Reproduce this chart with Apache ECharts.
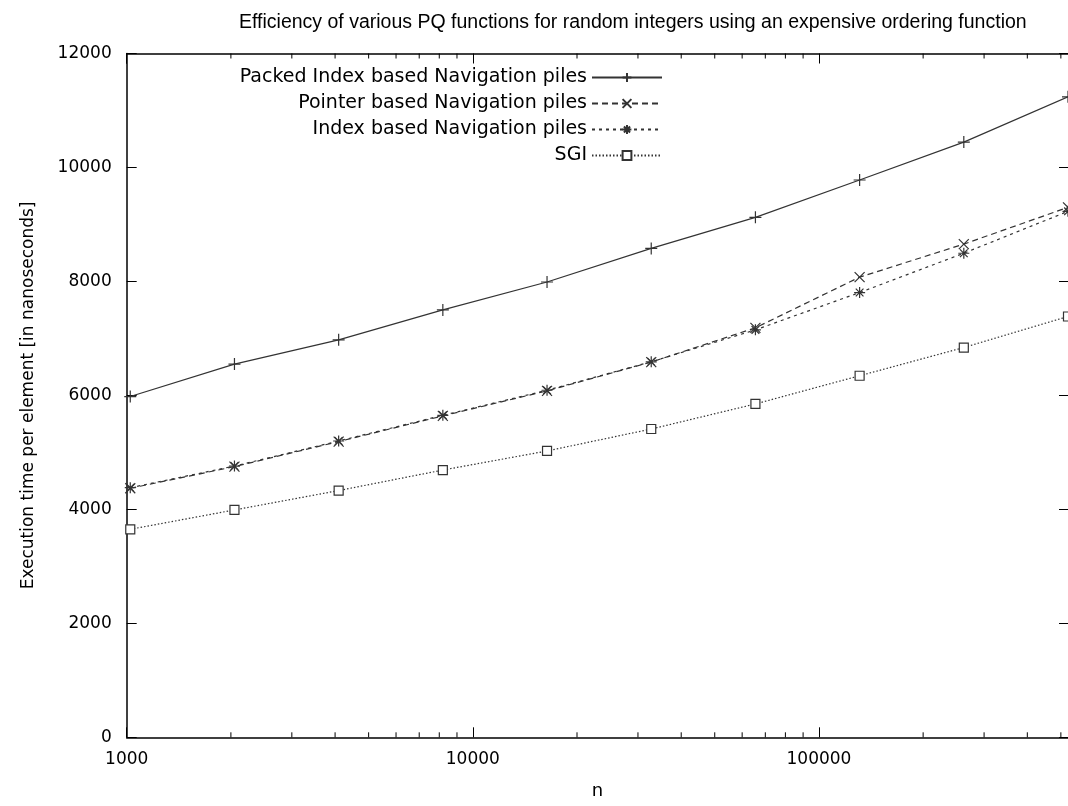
<!DOCTYPE html>
<html>
<head>
<meta charset="utf-8">
<script src="https://cdn.jsdelivr.net/npm/echarts@6/dist/echarts.min.js"></script>
<style>
html,body{margin:0;padding:0;background:#fff;}
#chart{width:1068px;height:806px;}
</style>
</head>
<body>
<div id="chart"></div>
<script>
// ---- data ----
const titleText = 'Efficiency of various PQ functions for random integers using an expensive ordering function';
const xName = 'n';
const yName = 'Execution time per element [in nanoseconds]';
const nValues = [1024, 2048, 4096, 8192, 16384, 32768, 65536, 131072, 262144, 524288];
const seriesNames = ['Packed Index based Navigation piles', 'Pointer based Navigation piles', 'Index based Navigation piles', 'SGI'];
const packed = [5980, 6550, 6975, 7500, 7990, 8580, 9125, 9780, 10445, 11240];
const pointer = [4370, 4750, 5190, 5640, 6080, 6585, 7185, 8075, 8655, 9300];
const indexBased = [4380, 4760, 5200, 5650, 6090, 6590, 7150, 7805, 8495, 9230];
const sgi = [3650, 3990, 4330, 4690, 5025, 5410, 5850, 6345, 6840, 7385];
const xMin = 1000, xMax = 524288;
const yMin = 0, yMax = 12000, yStep = 2000;
const minorTicks = [2000,3000,4000,5000,6000,7000,8000,9000,20000,30000,40000,50000,60000,70000,80000,90000,200000,300000,400000,500000];

const FONT = 'DejaVu Sans';
const LINE = '#333';
const AX = '#000';

const chart = echarts.init(document.getElementById('chart'), null, {renderer: 'canvas'});

function pairs(vals) { return nValues.map((n, i) => [n, vals[i]]); }

const plusPath = 'path://M0,5L10,5M5,0L5,10';
const crossPath = 'path://M0,0L10,10M10,0L0,10';
const starPath = 'path://M0,5L10,5M5,0L5,10M1.5,1.5L8.5,8.5M8.5,1.5L1.5,8.5';

function lineSeries(name, vals, symbol, size, dash, extraItem) {
  return {
    name: name,
    type: 'line',
    xAxisIndex: 0, yAxisIndex: 0,
    data: pairs(vals),
    symbol: symbol,
    symbolSize: size,
    showAllSymbol: true,
    clip: false,
    lineStyle: {color: LINE, width: 1.2, type: dash},
    itemStyle: Object.assign({color: LINE, borderColor: LINE, borderWidth: 1.2}, extraItem || {}),
    emphasis: {disabled: true},
    animation: false,
    z: 3
  };
}

const option = {
  animation: false,
  backgroundColor: '#fff',
  title: {
    text: titleText,
    left: 234, top: 8,
    textStyle: {fontFamily: 'Liberation Sans', fontSize: 19.5, fontWeight: 'normal', color: '#000'}
  },
  legend: {
    orient: 'vertical',
    align: 'right',
    right: 405, top: 68,
    padding: 0,
    itemGap: 7,
    itemWidth: 70, itemHeight: 11,
    data: seriesNames,
    textStyle: {fontFamily: FONT, fontSize: 19, color: '#000'},
    selectedMode: false
  },
  grid: {left: 126.7, right: -1.6, top: 53.5, bottom: 68.7, containLabel: false},
  xAxis: [{
    type: 'log', logBase: 10, min: xMin, max: xMax,
    position: 'bottom',
    name: xName, nameLocation: 'middle', nameGap: 45,
    nameTextStyle: {fontFamily: FONT, fontSize: 18, color: '#000'},
    axisLine: {show: true, onZero: false, lineStyle: {color: AX, width: 1.5}},
    axisTick: {show: true, inside: true, length: 10, lineStyle: {color: AX, width: 1}},
    axisLabel: {show: true, margin: 14, showMaxLabel: false, fontFamily: FONT, fontSize: 17, color: '#000',
      formatter: v => String(Math.round(v))},
    splitLine: {show: false}
  }, {
    type: 'log', logBase: 10, min: xMin, max: xMax,
    position: 'top',
    axisLine: {show: true, onZero: false, lineStyle: {color: AX, width: 1.5}},
    axisTick: {show: true, inside: true, length: 10, lineStyle: {color: AX, width: 1}},
    axisLabel: {show: false},
    splitLine: {show: false}
  }],
  yAxis: [{
    type: 'value', min: yMin, max: yMax, interval: yStep,
    position: 'left',
    name: yName, nameLocation: 'middle', nameGap: 90, nameRotate: 90,
    nameTextStyle: {fontFamily: FONT, fontSize: 17, color: '#000'},
    axisLine: {show: true, onZero: false, lineStyle: {color: AX, width: 1.5}},
    axisTick: {show: true, inside: true, length: 10, lineStyle: {color: AX, width: 1}},
    axisLabel: {show: true, margin: 15, fontFamily: FONT, fontSize: 17, color: '#000',
      formatter: v => String(v)},
    splitLine: {show: false}
  }, {
    type: 'value', min: yMin, max: yMax, interval: yStep,
    position: 'right',
    axisLine: {show: false},
    axisTick: {show: true, inside: true, length: 9, lineStyle: {color: AX, width: 1}},
    axisLabel: {show: false},
    splitLine: {show: false}
  }],
  series: [
    lineSeries(seriesNames[0], packed, plusPath, 12, 'solid'),
    lineSeries(seriesNames[1], pointer, crossPath, 10, [6, 4]),
    lineSeries(seriesNames[2], indexBased, starPath, 11, [3, 4]),
    lineSeries(seriesNames[3], sgi, 'rect', 9, [1.5, 2], {color: '#fff'}),
    {
      name: 'minorTicks',
      type: 'custom',
      xAxisIndex: 0, yAxisIndex: 0,
      data: minorTicks.map(v => [v]),
      encode: {x: 0},
      silent: true,
      clip: false,
      renderItem: function (params, api) {
        const v = api.value(0);
        const b = api.coord([v, yMin]);
        const t = api.coord([v, yMax]);
        return {
          type: 'group',
          children: [
            {type: 'line', shape: {x1: b[0], y1: b[1], x2: b[0], y2: b[1] - 5}, style: {stroke: AX, lineWidth: 1}},
            {type: 'line', shape: {x1: t[0], y1: t[1], x2: t[0], y2: t[1] + 5}, style: {stroke: AX, lineWidth: 1}}
          ]
        };
      }
    }
  ]
};
chart.setOption(option);
</script>
</body>
</html>
